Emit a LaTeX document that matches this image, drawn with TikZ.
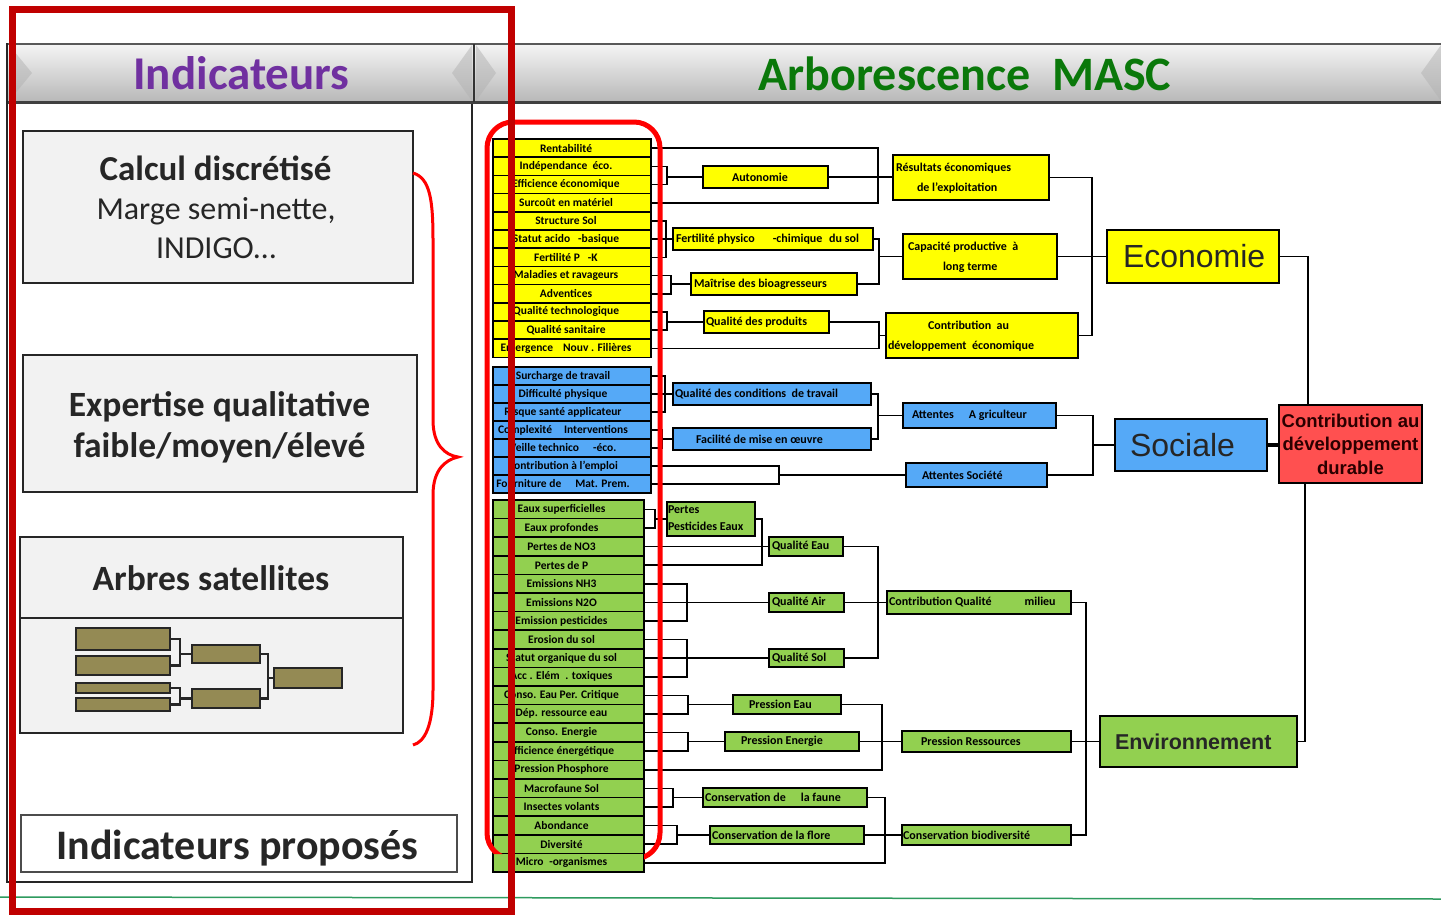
\documentclass[tikz,border=0pt]{standalone}
\usepackage{fontspec}
\setmainfont{Carlito}
\newfontfamily\arialf{Liberation Sans}
\usetikzlibrary{calc}
\definecolor{cyel}{HTML}{FFFF00}
\definecolor{cblu}{HTML}{55A9F7}
\definecolor{cgrn}{HTML}{92D050}
\definecolor{cred}{HTML}{FF5050}
\definecolor{dred}{HTML}{C00000}
\definecolor{bred}{HTML}{FF0000}
\definecolor{tpur}{HTML}{7030A0}
\definecolor{tgrn}{HTML}{0A780A}
\definecolor{dk}{HTML}{262626}
\definecolor{oliv}{HTML}{948A54}
\definecolor{pgray}{HTML}{F2F2F2}
\definecolor{lgrn}{HTML}{2E9B5E}
\definecolor{cddtxt}{HTML}{2B0000}

% box with left-placed text: style, name, x1, y1, x2, y2, text-west-x, text
\newcommand\bxl[8]{\node[#1,minimum height=#6pt-#4pt] (#2) at ({(#3+#5)/2},{(#4+#6)/2}) {\makebox[\dimexpr#5pt-#3pt\relax][l]{\hspace*{\dimexpr#7pt-#3pt\relax}#8}};}
% leaf: style, name, x1, x2, ytop, h, shift, text
\newcommand\lf[8]{\node[#1,minimum height=#6pt] (#2) at ({(#3+#4)/2},{#5+#6/2}) {\makebox[\dimexpr#4pt-#3pt\relax][c]{\hspace*{#7pt}#8}};}

\tikzset{
  lf/.style={draw=black, line width=1.5pt, inner sep=0pt, text=black, font=\fontsize{11.5}{12}\selectfont\bfseries},
  lfy/.style={lf, fill=cyel}, lfb/.style={lf, fill=cblu}, lfg/.style={lf, fill=cgrn},
  md/.style={draw=black, line width=2pt, inner sep=0pt, text=black, font=\fontsize{12}{20}\selectfont\bfseries},
  mdy/.style={md, fill=cyel}, mdb/.style={md, fill=cblu}, mdg/.style={md, fill=cgrn},
  tp/.style={draw=black, line width=2.5pt, inner sep=0pt, text=dk, font=\arialf\fontsize{32}{36}\selectfont},
  tpg/.style={tp, fill=cgrn, font=\arialf\bfseries\fontsize{21.5}{24}\selectfont},
  cn/.style={draw=black, line width=1.6pt},
  pbox/.style={draw=dk, line width=2.5pt, fill=pgray, inner sep=0pt},
  mini/.style={draw=dk, line width=2.5pt, fill=oliv, inner sep=0pt},
  mcn/.style={draw=dk, line width=2.5pt},
  ptxt/.style={text=dk, inner sep=0pt},
}

\begin{document}
\begin{tikzpicture}[x=1pt,y=-1pt]
\useasboundingbox (0,0) rectangle (1441,916);
\fill[white] (0,0) rectangle (1441,916);

% left panel frame
\draw[draw=dk, line width=2.5pt] (7,44) rectangle (472,882);
% header bar
\shade[top color=black!4, bottom color=black!28] (8,44) rectangle (1441,102);
\fill[black!30, opacity=0.5] (9,45) -- (32,73) -- (9,101) -- cycle;
\fill[black!30, opacity=0.5] (472,45) -- (452,73) -- (472,101) -- cycle;
\fill[black!30, opacity=0.5] (476,45) -- (496,73) -- (476,101) -- cycle;
\fill[black!30, opacity=0.5] (1441,45) -- (1421,73) -- (1441,101) -- cycle;
\draw[black!65, line width=2pt] (8,44) -- (1441,44);
\draw[black!75, line width=3pt] (8,102) -- (1441,102);
\draw[black!80, line width=2.5pt] (474,44) -- (474,102);
\node[font=\fontsize{47}{50}\selectfont\bfseries, text=tpur, inner sep=0pt] (h1) at (241.5,73) {Indicateurs};
\node[font=\fontsize{48}{50}\selectfont\bfseries, text=tgrn, inner sep=0pt] (h2) at (965,73.5) {Arborescence~ MASC};

% left panel boxes
\node[pbox, minimum width=390, minimum height=152] (p1) at (218,207) {};
\node[ptxt, font=\fontsize{35}{40}\selectfont\bfseries] (p1a) at (215.5,168) {Calcul discrétisé};
\node[ptxt, font=\fontsize{32}{36}\selectfont] (p1b) at (216,211.5) {Marge semi-nette,};
\node[ptxt, font=\fontsize{32}{36}\selectfont] (p1c) at (216,248) {INDIGO…};

\node[pbox, minimum width=394, minimum height=137] (p2) at (220,423.5) {};
\node[ptxt, font=\fontsize{35.5}{40}\selectfont\bfseries] (p2a) at (219.5,406.5) {Expertise qualitative};
\node[ptxt, font=\fontsize{35.5}{40}\selectfont\bfseries] (p2b) at (219.5,447.5) {faible/moyen/élevé};

\node[pbox, minimum width=383, minimum height=196] (p3) at (211.5,635) {};
\draw[draw=dk, line width=2.5pt] (20,618) -- (403,618);
\node[ptxt, font=\fontsize{35.5}{40}\selectfont\bfseries] (p3a) at (211,578.5) {Arbres satellites};

\node[mini, minimum width=94, minimum height=22] (m1) at (123,639) {};
\node[mini, minimum width=94, minimum height=19] (m2) at (123,665.5) {};
\node[mini, minimum width=94, minimum height=10] (m3) at (123,688) {};
\node[mini, minimum width=94, minimum height=13] (m4) at (123,704.5) {};
\node[mini, minimum width=68, minimum height=18] (n1) at (226,654) {};
\node[mini, minimum width=68, minimum height=19] (n2) at (226,698.5) {};
\node[mini, minimum width=68, minimum height=20] (o1) at (308,678) {};
\coordinate (jm1) at (180,654);
\coordinate (jm2) at (180,698.5);
\coordinate (jn) at (268,678);
\draw[mcn] (m1.east) -| (jm1) |- (m2.east); \draw[mcn] (jm1) -- (n1.west);
\draw[mcn] (m3.east) -| (jm2) |- (m4.east); \draw[mcn] (jm2) -- (n2.west);
\draw[mcn] (n1.east) -| (jn) |- (n2.east); \draw[mcn] (jn) -- (o1.west);

\node[draw=black!70, line width=1.2pt, fill=white, minimum width=436, minimum height=57, inner sep=0pt] (p4) at (239,843.5) {};
\node[ptxt, font=\fontsize{42}{46}\selectfont\bfseries] (p4a) at (237.5,848.5) {Indicateurs proposés};

% leaves
\foreach \tx [count=\i] in {Rentabilité,Indépendance\ \ éco.,Efficience économique,Surcoût en matériel,Structure Sol,Statut acido\hspace{8pt}-basique,Fertilité P\hspace{8pt}-K,Maladies et ravageurs,Adventices,Qualité technologique,Qualité sanitaire,Emergence\hspace{10pt}Nouv . Filières}
  {\lf{lfy}{y\i}{493}{651}{139+(\i-1)*18.2}{18.2}{-12}{\tx}}
\foreach \tx [count=\i] in {Surcharge de travail,Difficulté physique,Risque santé applicateur,Complexité\hspace{12pt}Interventions,Veille technico\hspace{14pt}-éco.,Contribution à l’emploi,Fourniture de\hspace{14pt}Mat. Prem.}
  {\lf{lfb}{b\i}{493}{651}{367+(\i-1)*18}{18}{-18}{\tx}}
\foreach \tx [count=\i] in {Eaux superficielles,Eaux profondes,Pertes de NO3,Pertes de P,Emissions NH3,Emissions N2O,Emission pesticides,Erosion du sol,Statut organique du sol,Acc . Elém\hspace{3pt} . toxiques,Conso. Eau Per. Critique,Dép. ressource eau,Conso. Energie,Efficience énergétique,Pression Phosphore,Macrofaune Sol,Insectes volants,Abondance,Diversité,Micro\hspace{3pt} -organismes}
  {\lf{lfg}{g\i}{493}{644}{500+(\i-1)*18.6}{18.6}{-14}{\tx}}

% economic branch
\bxl{mdy}{auto}{703}{166}{828}{188}{732}{Autonomie}
\bxl{mdy}{res}{893}{155}{1049}{200}{896}{\begin{tabular}{@{}l@{}}Résultats économiques\\\hspace*{21pt}de l’exploitation\end{tabular}}
\bxl{mdy}{fert}{673}{228}{873}{250}{676}{Fertilité physico\hspace{18pt}-chimique\hspace{4pt} du sol}
\bxl{mdy}{maitr}{691}{273}{857}{295}{694}{Maîtrise des bioagresseurs}
\bxl{mdy}{cap}{903}{234}{1057}{279}{908}{\begin{tabular}{@{}l@{}}Capacité productive\ \ à\\\hspace*{35pt}long terme\end{tabular}}
\bxl{mdy}{qprod}{704}{311}{829}{333}{706}{Qualité des produits}
\bxl{mdy}{cde}{886}{313}{1078}{358}{888}{\begin{tabular}{@{}l@{}}\hspace*{40pt}Contribution\ \ au\\développement\ \ économique\end{tabular}}
\bxl{tp,fill=cyel}{eco}{1107}{230}{1279}{283}{1123}{Economie}

% social branch
\bxl{mdb}{qct}{673}{383}{871}{405}{675}{Qualité des conditions\ \ de travail}
\bxl{mdb}{fac}{673}{428}{871}{450}{696}{Facilité de mise en œuvre}
\bxl{mdb}{aa}{903}{403}{1056}{428}{912}{Attentes\hspace{15pt}A griculteur}
\bxl{mdb}{as}{906}{463}{1047}{487}{922}{Attentes Société}
\bxl{tp,fill=cblu}{soc}{1115}{419}{1267}{471}{1130}{Sociale}

% environment branch
\bxl{mdg}{ppe}{667}{502}{755}{536}{668}{{\renewcommand\arraystretch{0.85}\begin{tabular}{@{}l@{}}Pertes\\Pesticides Eaux\end{tabular}}}
\bxl{mdg}{qeau}{769}{537}{843}{556}{772}{Qualité Eau}
\bxl{mdg}{qair}{769}{593}{844}{612}{772}{Qualité Air}
\bxl{mdg}{qsol}{769}{649}{844}{667}{772}{Qualité Sol}
\bxl{mdg}{cqm}{887}{591}{1071}{614}{889}{Contribution Qualité\hspace{33pt}milieu}
\bxl{mdg}{pe}{733}{695}{841}{714}{749}{Pression Eau}
\bxl{mdg}{pen}{725}{732}{859}{751}{741}{Pression Energie}
\bxl{mdg}{pr}{902}{731}{1071}{752}{921}{Pression Ressources}
\bxl{mdg}{cf}{703}{788}{867}{807}{705}{Conservation de\hspace{15pt}la faune}
\bxl{mdg}{cfl}{710}{826}{864}{844}{712}{Conservation de la flore}
\bxl{mdg}{cb}{902}{825}{1071}{845}{903}{Conservation biodiversité}
\bxl{tpg}{env}{1100}{716}{1297}{767}{1115}{Environnement}

\node[draw=black, line width=2pt, fill=cred, minimum width=143, minimum height=78, inner sep=0pt, align=center, text=cddtxt, font=\arialf\bfseries\fontsize{18.5}{23.5}\selectfont] (cdd) at (1350.5,444) {Contribution au\\développement\\durable};

% connectors economic
\coordinate (jAuto) at (667,177);
\draw[cn] (y2.east) -| (jAuto) |- (y3.east); \draw[cn] (jAuto) -- (auto.west);
\coordinate (jRes) at (878,177);
\draw[cn] (y1.east) -| (jRes) |- (y4.east); \draw[cn] (auto.east) -- (auto.east -| res.west);
\coordinate (jFert) at (666,239);
\draw[cn] (y5.east) -| (jFert) |- (y7.east); \draw[cn] (y6.east) -- (y6.east -| fert.west);
\coordinate (jMai) at (671,284);
\draw[cn] (y8.east) -| (jMai) |- (y9.east); \draw[cn] (jMai) -- (maitr.west);
\coordinate (jCap) at (879,256.5);
\draw[cn] (fert.east) -| (jCap) |- (maitr.east); \draw[cn] (jCap) -- (cap.west);
\coordinate (jQp) at (667,322);
\draw[cn] (y10.east) -| (jQp) |- (y11.east); \draw[cn] (jQp) -- (qprod.west);
\coordinate (jCde) at (879,335.5);
\draw[cn] (qprod.east) -| (jCde) |- (y12.east); \draw[cn] (jCde) -- (cde.west);
\coordinate (jEco) at (1092,256.5);
\draw[cn] (res.east) -| (jEco) |- (cde.east); \draw[cn] (cap.east) -- (eco.west);

% connectors social
\coordinate (jQct) at (665,394);
\draw[cn] (b1.east) -| (jQct) |- (b3.east); \draw[cn] (b2.east) -- (b2.east -| qct.west);
\coordinate (jFac) at (662,439);
\draw[cn] (b4.east) -| (jFac) |- (b5.east); \draw[cn] (jFac) -- (fac.west);
\coordinate (jAA) at (878,415.5);
\draw[cn] (qct.east) -| (jAA) |- (fac.east); \draw[cn] (jAA) -- (aa.west);
\coordinate (jAS) at (779,475);
\draw[cn] (b6.east) -| (jAS) |- (b7.east); \draw[cn] (jAS) -- (as.west);
\coordinate (jSoc) at (1093,445);
\draw[cn] (aa.east) -| (jSoc) |- (as.east); \draw[cn] (jSoc) -- (soc.west);

% connectors environment
\coordinate (jPpe) at (655,519);
\draw[cn] (g1.east) -| (jPpe) |- (g2.east); \draw[cn] (jPpe) -- (ppe.west);
\coordinate (jQe) at (762,546.5);
\draw[cn] (ppe.east) -| (jQe) |- (g4.east); \draw[cn] (g3.east) -- (g3.east -| qeau.west);
\coordinate (jQa) at (687,602.3);
\draw[cn] (g5.east) -| (jQa) |- (g7.east); \draw[cn] (g6.east) -- (g6.east -| qair.west);
\coordinate (jQs) at (687,658.1);
\draw[cn] (g8.east) -| (jQs) |- (g10.east); \draw[cn] (g9.east) -- (g9.east -| qsol.west);
\coordinate (jCqm) at (878,602.5);
\draw[cn] (qeau.east) -| (jCqm) |- (qsol.east); \draw[cn] (qair.east) -- (qair.east -| cqm.west);
\coordinate (jPe) at (688,704.5);
\draw[cn] (g11.east) -| (jPe) |- (g12.east); \draw[cn] (jPe) -- (pe.west);
\coordinate (jPen) at (688,741.5);
\draw[cn] (g13.east) -| (jPen) |- (g14.east); \draw[cn] (jPen) -- (pen.west);
\coordinate (jPr) at (882,741.5);
\draw[cn] (pe.east) -| (jPr) |- (g15.east); \draw[cn] (pen.east) -- (pr.west);
\coordinate (jCf) at (673,797.5);
\draw[cn] (g16.east) -| (jCf) |- (g17.east); \draw[cn] (jCf) -- (cf.west);
\coordinate (jCfl) at (677,835);
\draw[cn] (g18.east) -| (jCfl) |- (g19.east); \draw[cn] (jCfl) -- (cfl.west);
\coordinate (jCb) at (885,835);
\draw[cn] (cf.east) -| (jCb) |- (g20.east); \draw[cn] (cfl.east) -- (cb.west);
\coordinate (jEnv) at (1086,741.5);
\draw[cn] (cqm.east) -| (jEnv) |- (cb.east); \draw[cn] (pr.east) -- (env.west);

% top level
\draw[cn] (eco.east) -| ([xshift=30]cdd.north west);
\draw[cn] (env.east) -| ([xshift=27]cdd.south west);
\draw[cn, line width=4pt] (soc.east) -- (soc.east -| cdd.west);

% overlays
\draw[lgrn, line width=1.5pt] (0,897) -- (1441,899);
\begin{scope}
  \clip (0,0) -- (1441,0) -- (1441,916) -- (644,916) -- (644,854) -- (493,854) -- (493,916) -- (0,916) -- cycle;
  \draw[bred, line width=5pt, rounded corners=26pt] (487,122) rectangle (660,859);
\end{scope}
\draw[dred, line width=7pt] (12.5,9) rectangle (511,911);
\draw[bred, line width=3pt] (413,173) .. controls (430,178) and (433,200) .. (433,240) -- (433,420) .. controls (433,445) and (445,455) .. (458,457) .. controls (445,460) and (433,470) .. (433,495) -- (433,690) .. controls (433,725) and (425,742) .. (413,745);
\end{tikzpicture}
\end{document}
